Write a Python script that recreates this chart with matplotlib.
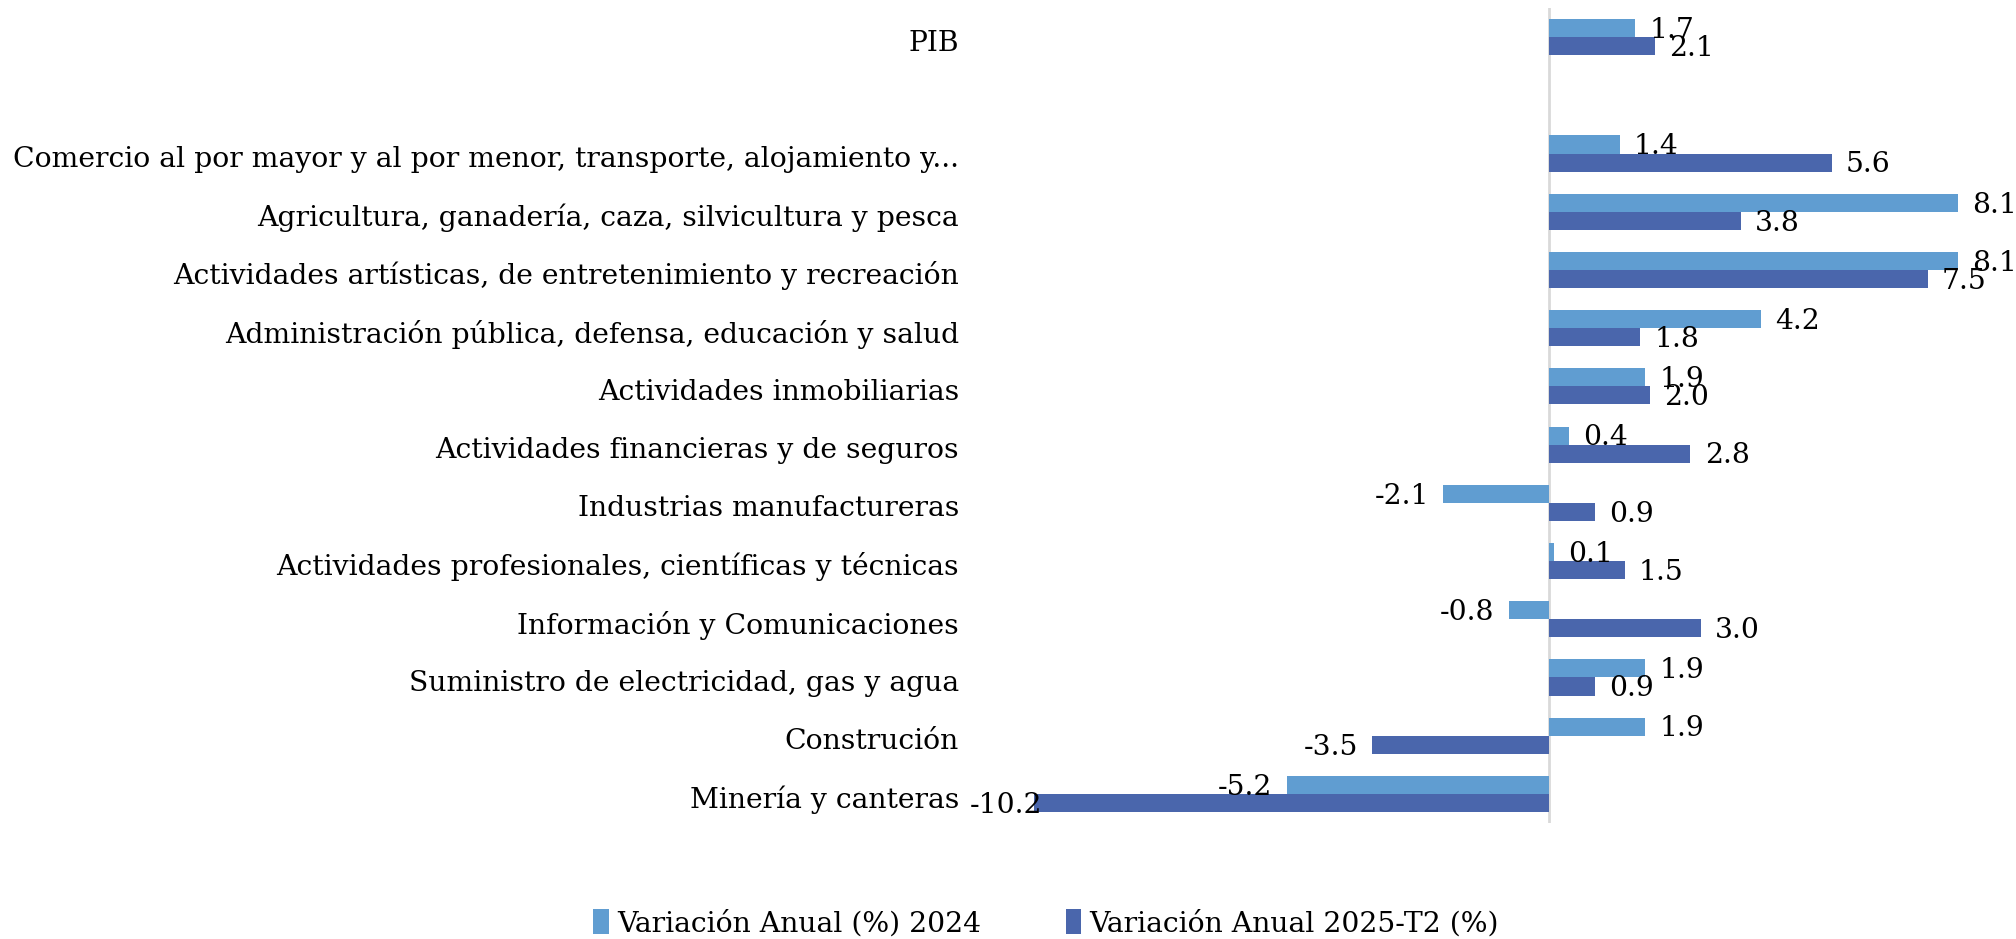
import matplotlib.pyplot as plt
import numpy as np

# data, top to bottom ("" = empty row between PIB and the sectors)
categories = [
    "PIB",
    "",
    "Comercio al por mayor y al por menor, transporte, alojamiento y...",
    "Agricultura, ganadería, caza, silvicultura y pesca",
    "Actividades artísticas, de entretenimiento y recreación",
    "Administración pública, defensa, educación y salud",
    "Actividades inmobiliarias",
    "Actividades financieras y de seguros",
    "Industrias manufactureras",
    "Actividades profesionales, científicas y técnicas",
    "Información y Comunicaciones",
    "Suministro de electricidad, gas y agua",
    "Construción",
    "Minería y canteras",
]
var_2024 = [1.7, np.nan, 1.4, 8.1, 8.1, 4.2, 1.9, 0.4, -2.1, 0.1, -0.8, 1.9, 1.9, -5.2]
var_2025_t2 = [2.1, np.nan, 5.6, 3.8, 7.5, 1.8, 2.0, 2.8, 0.9, 1.5, 3.0, 0.9, -3.5, -10.2]

labels_legend = ["Variación Anual (%) 2024", "Variación Anual 2025-T2 (%)"]
c_light = "#609DD1"
c_dark = "#4A66AC"

plt.rcParams["font.family"] = ["DejaVu Serif"]
fs = 20.3

fig = plt.figure(figsize=(20.16, 9.39), dpi=100)
ax = fig.add_axes([970 / 2016, 116 / 939, 1030 / 2016, 815 / 939])

n = len(categories)
y = np.arange(n)
h = 0.31
xmin, xmax = -11.47, 8.93

ax.barh(y - h / 2, var_2024, height=h, color=c_light, label=labels_legend[0])
ax.barh(y + h / 2, var_2025_t2, height=h, color=c_dark, label=labels_legend[1])

# value labels
for vals, off in ((var_2024, -h / 2), (var_2025_t2, h / 2)):
    for yi, v in zip(y, vals):
        if np.isnan(v):
            continue
        if v >= 0:
            ax.text(v + 0.28, yi + off + 0.04, f"{v:.1f}", ha="left", va="center", fontsize=fs)
        elif v - 0.28 < xmin + 1.5:
            ax.text(xmin, yi + off + 0.04, f"{v:.1f}", ha="left", va="center", fontsize=fs)
        else:
            ax.text(v - 0.28, yi + off + 0.04, f"{v:.1f}", ha="right", va="center", fontsize=fs)

ax.set_xlim(xmin, xmax)
ax.set_ylim(n - 0.5, -0.5)
ax.set_yticks(y + 0.05)
ax.set_yticklabels(categories, fontsize=fs)
ax.tick_params(axis="y", length=0, pad=8)
ax.set_xticks([])
for s in ax.spines.values():
    s.set_visible(False)
ax.axvline(0, color="#D9D9D9", lw=2, zorder=0)

fig.legend(loc="center", bbox_to_anchor=(1046 / 2016, 1 - 923 / 939), ncol=2,
           frameon=False, fontsize=fs, handlelength=0.55, handleheight=1.0,
           handletextpad=0.3, columnspacing=3.0)

fig.savefig("out.png", dpi=100)
